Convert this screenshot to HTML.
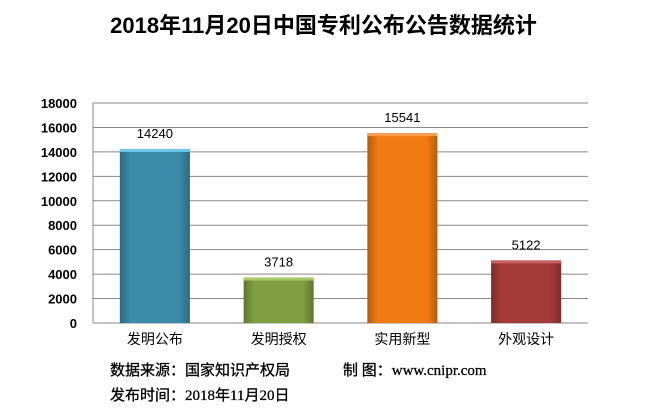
<!DOCTYPE html>
<html><head><meta charset="utf-8"><style>
body{margin:0;width:647px;height:413px;background:#fff;overflow:hidden;font-family:"Liberation Sans","Noto Sans CJK SC",sans-serif}
.t{position:absolute;white-space:nowrap}
.f{font-size:15px;font-family:'Liberation Serif','Noto Sans CJK SC',serif;color:#000;-webkit-text-stroke:0.3px #000}
</style></head><body>
<div class="t" style="left:0;width:647px;top:8px;text-align:center;font-size:22px;font-weight:bold;color:#000">2018年11月20日中国专利公布公告数据统计</div>
<svg id="c" width="647" height="413" style="position:absolute;left:0;top:0">
<defs>
<linearGradient id="sh" x1="0" x2="1"><stop offset="0" stop-color="#000" stop-opacity="0.25"/><stop offset="0.15" stop-color="#000" stop-opacity="0"/><stop offset="0.85" stop-color="#000" stop-opacity="0"/><stop offset="1" stop-color="#000" stop-opacity="0.25"/></linearGradient>
</defs>
</svg>
<div class="t f" style="left:110px;top:359px">数据来源：国家知识产权局</div>
<div class="t f" style="left:343px;top:359px">制 图：www.cnipr.com</div>
<div class="t f" style="left:110px;top:384px">发布时间：2018年11月20日</div>
<script>
const categories=["发明公布","发明授权","实用新型","外观设计"];
const values=[14240,3718,15541,5122];
const ticks=[0,2000,4000,6000,8000,10000,12000,14000,16000,18000];
const colors=["#3a8ca8","#7f9e40","#f07b12","#a33b3a"];
const tops=["#6cc8e6","#a6c860","#fba050","#c86060"];
const svg=document.getElementById('c');
const L=93,R=588,T=103,B=323,max=18000;
const y=v=>B-v/max*(B-T);
const bw=(R-L)/categories.length;
const x=i=>L+bw*i+bw/2;
function mk(t,a){const e=document.createElementNS('http://www.w3.org/2000/svg',t);for(const k in a)e.setAttribute(k,a[k]);svg.appendChild(e);return e;}
ticks.forEach(v=>{
 const g=mk('line',{x1:L,x2:R,y1:y(v),y2:y(v),stroke:'#888','stroke-width':1});
 
 
 const tx=mk('text',{x:L-16,y:y(v)+5,'text-anchor':'end','font-size':13,'font-weight':'bold',fill:'#000','font-family':'Liberation Sans, sans-serif'});
 tx.textContent=v;
 
 
});
const ax=mk('line',{x1:L,x2:L,y1:T,y2:B,stroke:'#888'});


values.forEach((v,i)=>{
 const cx=x(i),w=70;
 const r=mk('rect',{x:cx-w/2,y:y(v),width:w,height:B-y(v),fill:colors[i]});
 
 
 const s=mk('rect',{x:cx-w/2,y:y(v),width:w,height:B-y(v),fill:'url(#sh)'});
 
 
 const tp=mk('rect',{x:cx-w/2,y:y(v),width:w,height:3,fill:tops[i]});
 
 
 const lb=mk('text',{x:cx,y:y(v)-11,'text-anchor':'middle','font-size':13,fill:'#000','font-family':'Liberation Sans, sans-serif'});
 lb.textContent=v;
 
 
 const cl=mk('text',{x:cx,y:B+21,'text-anchor':'middle','font-size':14,fill:'#000','font-family':'Noto Sans CJK SC, sans-serif'});
 cl.textContent=categories[i];
 
 
});
</script>
</body></html>
